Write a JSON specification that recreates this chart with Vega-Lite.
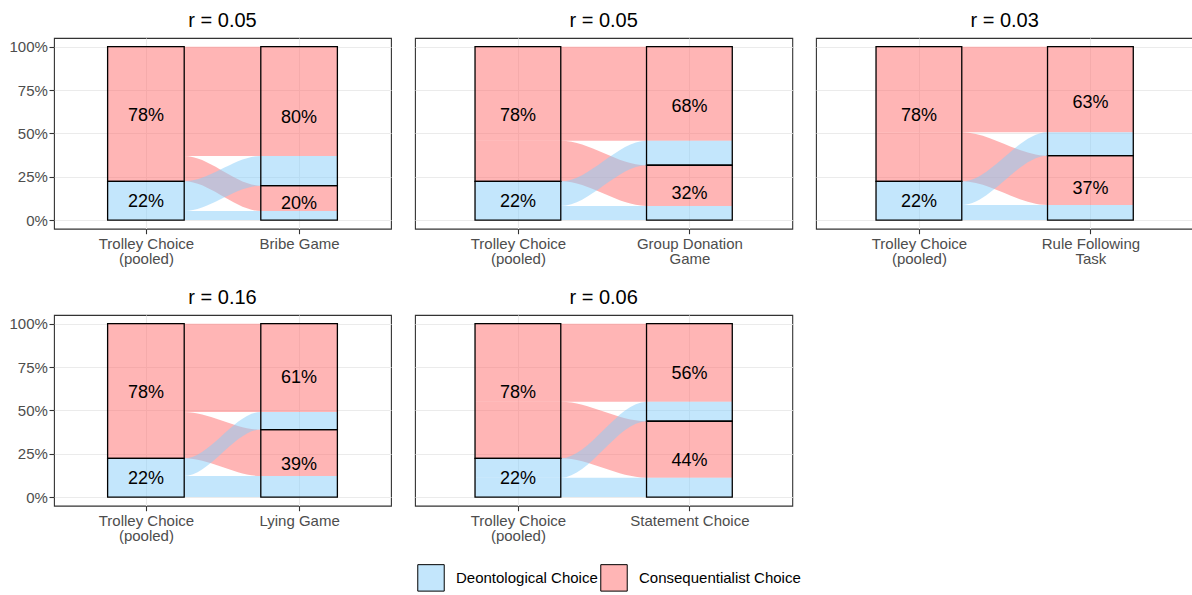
{
"$schema": "https://vega.github.io/schema/vega-lite/v6.json",
"padding": {"left": 8, "top": 9, "right": 0, "bottom": 0},
"config": {
  "font": "Liberation Sans",
  "view": {"stroke": "#333333", "strokeWidth": 1.1},
  "axis": {"domain": false, "gridColor": "#EBEBEB", "labelColor": "#4D4D4D", "labelFontSize": 15, "tickColor": "#333333", "tickSize": 5, "tickWidth": 1.1, "labelPadding": 1.6},
  "title": {"fontSize": 20, "fontWeight": "normal", "color": "#000000", "anchor": "middle", "frame": "group", "offset": 7.5}
},
"datasets": {
 "flows": [
  {"p":1,"f":"dd","c":"Deontological Choice","x":0.75,"lo":0,"hi":0.052},
  {"p":1,"f":"dd","c":"Deontological Choice","x":1.25,"lo":0,"hi":0.052},
  {"p":1,"f":"dd","c":"Deontological Choice","x":1.75,"lo":0,"hi":0.052},
  {"p":1,"f":"dd","c":"Deontological Choice","x":2.25,"lo":0,"hi":0.052},
  {"p":1,"f":"dc","c":"Deontological Choice","x":0.75,"lo":0.052,"hi":0.223},
  {"p":1,"f":"dc","c":"Deontological Choice","x":1.25,"lo":0.052,"hi":0.223},
  {"p":1,"f":"dc","c":"Deontological Choice","x":1.75,"lo":0.198,"hi":0.369},
  {"p":1,"f":"dc","c":"Deontological Choice","x":2.25,"lo":0.198,"hi":0.369},
  {"p":1,"f":"cd","c":"Consequentialist Choice","x":0.75,"lo":0.223,"hi":0.369},
  {"p":1,"f":"cd","c":"Consequentialist Choice","x":1.25,"lo":0.223,"hi":0.369},
  {"p":1,"f":"cd","c":"Consequentialist Choice","x":1.75,"lo":0.052,"hi":0.198},
  {"p":1,"f":"cd","c":"Consequentialist Choice","x":2.25,"lo":0.052,"hi":0.198},
  {"p":1,"f":"cc","c":"Consequentialist Choice","x":0.75,"lo":0.369,"hi":1},
  {"p":1,"f":"cc","c":"Consequentialist Choice","x":1.25,"lo":0.369,"hi":1},
  {"p":1,"f":"cc","c":"Consequentialist Choice","x":1.75,"lo":0.369,"hi":1},
  {"p":1,"f":"cc","c":"Consequentialist Choice","x":2.25,"lo":0.369,"hi":1},

  {"p":2,"f":"dd","c":"Deontological Choice","x":0.75,"lo":0,"hi":0.081},
  {"p":2,"f":"dd","c":"Deontological Choice","x":1.25,"lo":0,"hi":0.081},
  {"p":2,"f":"dd","c":"Deontological Choice","x":1.75,"lo":0,"hi":0.081},
  {"p":2,"f":"dd","c":"Deontological Choice","x":2.25,"lo":0,"hi":0.081},
  {"p":2,"f":"dc","c":"Deontological Choice","x":0.75,"lo":0.081,"hi":0.223},
  {"p":2,"f":"dc","c":"Deontological Choice","x":1.25,"lo":0.081,"hi":0.223},
  {"p":2,"f":"dc","c":"Deontological Choice","x":1.75,"lo":0.316,"hi":0.458},
  {"p":2,"f":"dc","c":"Deontological Choice","x":2.25,"lo":0.316,"hi":0.458},
  {"p":2,"f":"cd","c":"Consequentialist Choice","x":0.75,"lo":0.223,"hi":0.458},
  {"p":2,"f":"cd","c":"Consequentialist Choice","x":1.25,"lo":0.223,"hi":0.458},
  {"p":2,"f":"cd","c":"Consequentialist Choice","x":1.75,"lo":0.081,"hi":0.316},
  {"p":2,"f":"cd","c":"Consequentialist Choice","x":2.25,"lo":0.081,"hi":0.316},
  {"p":2,"f":"cc","c":"Consequentialist Choice","x":0.75,"lo":0.458,"hi":1},
  {"p":2,"f":"cc","c":"Consequentialist Choice","x":1.25,"lo":0.458,"hi":1},
  {"p":2,"f":"cc","c":"Consequentialist Choice","x":1.75,"lo":0.458,"hi":1},
  {"p":2,"f":"cc","c":"Consequentialist Choice","x":2.25,"lo":0.458,"hi":1},

  {"p":3,"f":"dd","c":"Deontological Choice","x":0.75,"lo":0,"hi":0.087},
  {"p":3,"f":"dd","c":"Deontological Choice","x":1.25,"lo":0,"hi":0.087},
  {"p":3,"f":"dd","c":"Deontological Choice","x":1.75,"lo":0,"hi":0.087},
  {"p":3,"f":"dd","c":"Deontological Choice","x":2.25,"lo":0,"hi":0.087},
  {"p":3,"f":"dc","c":"Deontological Choice","x":0.75,"lo":0.087,"hi":0.223},
  {"p":3,"f":"dc","c":"Deontological Choice","x":1.25,"lo":0.087,"hi":0.223},
  {"p":3,"f":"dc","c":"Deontological Choice","x":1.75,"lo":0.371,"hi":0.507},
  {"p":3,"f":"dc","c":"Deontological Choice","x":2.25,"lo":0.371,"hi":0.507},
  {"p":3,"f":"cd","c":"Consequentialist Choice","x":0.75,"lo":0.223,"hi":0.507},
  {"p":3,"f":"cd","c":"Consequentialist Choice","x":1.25,"lo":0.223,"hi":0.507},
  {"p":3,"f":"cd","c":"Consequentialist Choice","x":1.75,"lo":0.087,"hi":0.371},
  {"p":3,"f":"cd","c":"Consequentialist Choice","x":2.25,"lo":0.087,"hi":0.371},
  {"p":3,"f":"cc","c":"Consequentialist Choice","x":0.75,"lo":0.507,"hi":1},
  {"p":3,"f":"cc","c":"Consequentialist Choice","x":1.25,"lo":0.507,"hi":1},
  {"p":3,"f":"cc","c":"Consequentialist Choice","x":1.75,"lo":0.507,"hi":1},
  {"p":3,"f":"cc","c":"Consequentialist Choice","x":2.25,"lo":0.507,"hi":1},

  {"p":4,"f":"dd","c":"Deontological Choice","x":0.75,"lo":0,"hi":0.121},
  {"p":4,"f":"dd","c":"Deontological Choice","x":1.25,"lo":0,"hi":0.121},
  {"p":4,"f":"dd","c":"Deontological Choice","x":1.75,"lo":0,"hi":0.121},
  {"p":4,"f":"dd","c":"Deontological Choice","x":2.25,"lo":0,"hi":0.121},
  {"p":4,"f":"dc","c":"Deontological Choice","x":0.75,"lo":0.121,"hi":0.223},
  {"p":4,"f":"dc","c":"Deontological Choice","x":1.25,"lo":0.121,"hi":0.223},
  {"p":4,"f":"dc","c":"Deontological Choice","x":1.75,"lo":0.389,"hi":0.491},
  {"p":4,"f":"dc","c":"Deontological Choice","x":2.25,"lo":0.389,"hi":0.491},
  {"p":4,"f":"cd","c":"Consequentialist Choice","x":0.75,"lo":0.223,"hi":0.491},
  {"p":4,"f":"cd","c":"Consequentialist Choice","x":1.25,"lo":0.223,"hi":0.491},
  {"p":4,"f":"cd","c":"Consequentialist Choice","x":1.75,"lo":0.121,"hi":0.389},
  {"p":4,"f":"cd","c":"Consequentialist Choice","x":2.25,"lo":0.121,"hi":0.389},
  {"p":4,"f":"cc","c":"Consequentialist Choice","x":0.75,"lo":0.491,"hi":1},
  {"p":4,"f":"cc","c":"Consequentialist Choice","x":1.25,"lo":0.491,"hi":1},
  {"p":4,"f":"cc","c":"Consequentialist Choice","x":1.75,"lo":0.491,"hi":1},
  {"p":4,"f":"cc","c":"Consequentialist Choice","x":2.25,"lo":0.491,"hi":1},

  {"p":5,"f":"dd","c":"Deontological Choice","x":0.75,"lo":0,"hi":0.111},
  {"p":5,"f":"dd","c":"Deontological Choice","x":1.25,"lo":0,"hi":0.111},
  {"p":5,"f":"dd","c":"Deontological Choice","x":1.75,"lo":0,"hi":0.111},
  {"p":5,"f":"dd","c":"Deontological Choice","x":2.25,"lo":0,"hi":0.111},
  {"p":5,"f":"dc","c":"Deontological Choice","x":0.75,"lo":0.111,"hi":0.223},
  {"p":5,"f":"dc","c":"Deontological Choice","x":1.25,"lo":0.111,"hi":0.223},
  {"p":5,"f":"dc","c":"Deontological Choice","x":1.75,"lo":0.437,"hi":0.549},
  {"p":5,"f":"dc","c":"Deontological Choice","x":2.25,"lo":0.437,"hi":0.549},
  {"p":5,"f":"cd","c":"Consequentialist Choice","x":0.75,"lo":0.223,"hi":0.549},
  {"p":5,"f":"cd","c":"Consequentialist Choice","x":1.25,"lo":0.223,"hi":0.549},
  {"p":5,"f":"cd","c":"Consequentialist Choice","x":1.75,"lo":0.111,"hi":0.437},
  {"p":5,"f":"cd","c":"Consequentialist Choice","x":2.25,"lo":0.111,"hi":0.437},
  {"p":5,"f":"cc","c":"Consequentialist Choice","x":0.75,"lo":0.549,"hi":1},
  {"p":5,"f":"cc","c":"Consequentialist Choice","x":1.25,"lo":0.549,"hi":1},
  {"p":5,"f":"cc","c":"Consequentialist Choice","x":1.75,"lo":0.549,"hi":1},
  {"p":5,"f":"cc","c":"Consequentialist Choice","x":2.25,"lo":0.549,"hi":1}
 ],
 "strata": [
  {"p":1,"x0":0.75,"x1":1.25,"xc":1,"lo":0,"hi":0.223,"mid":0.1115,"share":0.223},
  {"p":1,"x0":0.75,"x1":1.25,"xc":1,"lo":0.223,"hi":1,"mid":0.6115,"share":0.777},
  {"p":1,"x0":1.75,"x1":2.25,"xc":2,"lo":0,"hi":0.198,"mid":0.099,"share":0.198},
  {"p":1,"x0":1.75,"x1":2.25,"xc":2,"lo":0.198,"hi":1,"mid":0.599,"share":0.802},
  {"p":2,"x0":0.75,"x1":1.25,"xc":1,"lo":0,"hi":0.223,"mid":0.1115,"share":0.223},
  {"p":2,"x0":0.75,"x1":1.25,"xc":1,"lo":0.223,"hi":1,"mid":0.6115,"share":0.777},
  {"p":2,"x0":1.75,"x1":2.25,"xc":2,"lo":0,"hi":0.316,"mid":0.158,"share":0.316},
  {"p":2,"x0":1.75,"x1":2.25,"xc":2,"lo":0.316,"hi":1,"mid":0.658,"share":0.684},
  {"p":3,"x0":0.75,"x1":1.25,"xc":1,"lo":0,"hi":0.223,"mid":0.1115,"share":0.223},
  {"p":3,"x0":0.75,"x1":1.25,"xc":1,"lo":0.223,"hi":1,"mid":0.6115,"share":0.777},
  {"p":3,"x0":1.75,"x1":2.25,"xc":2,"lo":0,"hi":0.371,"mid":0.1855,"share":0.371},
  {"p":3,"x0":1.75,"x1":2.25,"xc":2,"lo":0.371,"hi":1,"mid":0.6855,"share":0.629},
  {"p":4,"x0":0.75,"x1":1.25,"xc":1,"lo":0,"hi":0.223,"mid":0.1115,"share":0.223},
  {"p":4,"x0":0.75,"x1":1.25,"xc":1,"lo":0.223,"hi":1,"mid":0.6115,"share":0.777},
  {"p":4,"x0":1.75,"x1":2.25,"xc":2,"lo":0,"hi":0.389,"mid":0.1945,"share":0.389},
  {"p":4,"x0":1.75,"x1":2.25,"xc":2,"lo":0.389,"hi":1,"mid":0.6945,"share":0.611},
  {"p":5,"x0":0.75,"x1":1.25,"xc":1,"lo":0,"hi":0.223,"mid":0.1115,"share":0.223},
  {"p":5,"x0":0.75,"x1":1.25,"xc":1,"lo":0.223,"hi":1,"mid":0.6115,"share":0.777},
  {"p":5,"x0":1.75,"x1":2.25,"xc":2,"lo":0,"hi":0.437,"mid":0.2185,"share":0.437},
  {"p":5,"x0":1.75,"x1":2.25,"xc":2,"lo":0.437,"hi":1,"mid":0.7185,"share":0.563}
 ]
},
"columns": 3,
"align": "each",
"spacing": {"row": 19, "column": 22},
"concat": [
 {
  "width": 337, "height": 190.7, "title": "r = 0.05",
  "layer": [
   {"data": {"name": "flows"}, "transform": [{"filter": "datum.p == 1 && datum.c == 'Consequentialist Choice'"}],
    "mark": {"type": "area", "interpolate": "monotone", "fillOpacity": 0.5},
    "encoding": {
     "x": {"field": "x", "type": "quantitative", "scale": {"domain": [0.4, 2.6], "nice": false, "zero": false},
       "axis": {"title": null, "values": [1, 2], "grid": true, "gridWidth": 1.1, "labelExpr": "datum.value == 1 ? ['Trolley Choice', '(pooled)'] : 'Bribe Game'", "labelLineHeight": 15, "labelPadding": 2.5, "labelOverlap": false, "labelFlush": false, "labelBound": false}},
     "y": {"field": "lo", "type": "quantitative", "stack": null, "scale": {"domain": [-0.05, 1.05], "nice": false, "zero": false},
       "axis": {"title": null, "values": [0, 0.125, 0.25, 0.375, 0.5, 0.625, 0.75, 0.875, 1], "grid": true, "labelOverlap": false,
         "gridWidth": {"condition": {"test": "round(datum.value * 8) % 2 == 1", "value": 0.55}, "value": 1.1},
         "tickOpacity": {"condition": {"test": "round(datum.value * 8) % 2 == 1", "value": 0}, "value": 1},
         "labelExpr": "round(datum.value * 8) % 2 == 1 ? '' : format(datum.value, '.0%')"}},
     "y2": {"field": "hi"},
     "detail": {"field": "f"},
     "color": {"field": "c", "type": "nominal", "scale": {"domain": ["Deontological Choice", "Consequentialist Choice"], "range": ["#87CEFA", "#FF6B6B"]},
       "legend": {"title": null, "orient": "none", "legendX": 363, "legendY": 525.5, "direction": "horizontal", "symbolType": "square", "symbolSize": 700, "symbolStrokeColor": "black", "symbolStrokeWidth": 1, "labelFontSize": 15, "labelColor": "black", "labelOffset": 11, "labelLimit": 400, "columnPadding": 0, "padding": 0,
         "encode": {"symbols": {"update": {"fillOpacity": {"value": 0.5}, "stroke": {"value": "black"}, "strokeOpacity": {"value": 1}, "opacity": {"value": 1}}}}}}
    }},
   {"data": {"name": "flows"}, "transform": [{"filter": "datum.p == 1 && datum.c == 'Deontological Choice'"}],
    "mark": {"type": "area", "interpolate": "monotone", "fillOpacity": 0.5},
    "encoding": {
     "x": {"field": "x", "type": "quantitative"},
     "y": {"field": "lo", "type": "quantitative", "stack": null},
     "y2": {"field": "hi"},
     "detail": {"field": "f"},
     "color": {"field": "c", "type": "nominal", "scale": {"domain": ["Deontological Choice", "Consequentialist Choice"], "range": ["#87CEFA", "#FF6B6B"]}}
    }},
   {"data": {"name": "strata"}, "transform": [{"filter": "datum.p == 1"}],
    "mark": {"type": "rect", "fill": "transparent", "stroke": "black", "strokeWidth": 1.3},
    "encoding": {"x": {"field": "x0", "type": "quantitative"}, "x2": {"field": "x1"}, "y": {"field": "lo", "type": "quantitative"}, "y2": {"field": "hi"}}},
   {"data": {"name": "strata"}, "transform": [{"filter": "datum.p == 1"}],
    "mark": {"type": "text", "fontSize": 18, "color": "black", "dy": 1.5},
    "encoding": {"x": {"field": "xc", "type": "quantitative"}, "y": {"field": "mid", "type": "quantitative"}, "text": {"field": "share", "type": "quantitative", "format": ".0%"}}}
  ]
 },
 {
  "width": 377.3, "height": 190.7, "title": "r = 0.05",
  "layer": [
   {"data": {"name": "flows"}, "transform": [{"filter": "datum.p == 2 && datum.c == 'Consequentialist Choice'"}],
    "mark": {"type": "area", "interpolate": "monotone", "fillOpacity": 0.5},
    "encoding": {
     "x": {"field": "x", "type": "quantitative", "scale": {"domain": [0.4, 2.6], "nice": false, "zero": false},
       "axis": {"title": null, "values": [1, 2], "grid": true, "gridWidth": 1.1, "labelExpr": "datum.value == 1 ? ['Trolley Choice', '(pooled)'] : ['Group Donation', 'Game']", "labelLineHeight": 15, "labelPadding": 2.5, "labelOverlap": false, "labelFlush": false, "labelBound": false}},
     "y": {"field": "lo", "type": "quantitative", "stack": null, "scale": {"domain": [-0.05, 1.05], "nice": false, "zero": false},
       "axis": {"title": null, "values": [0, 0.125, 0.25, 0.375, 0.5, 0.625, 0.75, 0.875, 1], "grid": true, "labels": false, "ticks": false,
         "gridWidth": {"condition": {"test": "round(datum.value * 8) % 2 == 1", "value": 0.55}, "value": 1.1}}},
     "y2": {"field": "hi"},
     "detail": {"field": "f"},
     "color": {"field": "c", "type": "nominal", "scale": {"domain": ["Deontological Choice", "Consequentialist Choice"], "range": ["#87CEFA", "#FF6B6B"]}}
    }},
   {"data": {"name": "flows"}, "transform": [{"filter": "datum.p == 2 && datum.c == 'Deontological Choice'"}],
    "mark": {"type": "area", "interpolate": "monotone", "fillOpacity": 0.5},
    "encoding": {
     "x": {"field": "x", "type": "quantitative"},
     "y": {"field": "lo", "type": "quantitative", "stack": null},
     "y2": {"field": "hi"},
     "detail": {"field": "f"},
     "color": {"field": "c", "type": "nominal", "scale": {"domain": ["Deontological Choice", "Consequentialist Choice"], "range": ["#87CEFA", "#FF6B6B"]}}
    }},
   {"data": {"name": "strata"}, "transform": [{"filter": "datum.p == 2"}],
    "mark": {"type": "rect", "fill": "transparent", "stroke": "black", "strokeWidth": 1.3},
    "encoding": {"x": {"field": "x0", "type": "quantitative"}, "x2": {"field": "x1"}, "y": {"field": "lo", "type": "quantitative"}, "y2": {"field": "hi"}}},
   {"data": {"name": "strata"}, "transform": [{"filter": "datum.p == 2"}],
    "mark": {"type": "text", "fontSize": 18, "color": "black", "dy": 1.5},
    "encoding": {"x": {"field": "xc", "type": "quantitative"}, "y": {"field": "mid", "type": "quantitative"}, "text": {"field": "share", "type": "quantitative", "format": ".0%"}}}
  ]
 },
 {
  "width": 377.3, "height": 190.7, "title": "r = 0.03",
  "layer": [
   {"data": {"name": "flows"}, "transform": [{"filter": "datum.p == 3 && datum.c == 'Consequentialist Choice'"}],
    "mark": {"type": "area", "interpolate": "monotone", "fillOpacity": 0.5},
    "encoding": {
     "x": {"field": "x", "type": "quantitative", "scale": {"domain": [0.4, 2.6], "nice": false, "zero": false},
       "axis": {"title": null, "values": [1, 2], "grid": true, "gridWidth": 1.1, "labelExpr": "datum.value == 1 ? ['Trolley Choice', '(pooled)'] : ['Rule Following', 'Task']", "labelLineHeight": 15, "labelPadding": 2.5, "labelOverlap": false, "labelFlush": false, "labelBound": false}},
     "y": {"field": "lo", "type": "quantitative", "stack": null, "scale": {"domain": [-0.05, 1.05], "nice": false, "zero": false},
       "axis": {"title": null, "values": [0, 0.125, 0.25, 0.375, 0.5, 0.625, 0.75, 0.875, 1], "grid": true, "labels": false, "ticks": false,
         "gridWidth": {"condition": {"test": "round(datum.value * 8) % 2 == 1", "value": 0.55}, "value": 1.1}}},
     "y2": {"field": "hi"},
     "detail": {"field": "f"},
     "color": {"field": "c", "type": "nominal", "scale": {"domain": ["Deontological Choice", "Consequentialist Choice"], "range": ["#87CEFA", "#FF6B6B"]}}
    }},
   {"data": {"name": "flows"}, "transform": [{"filter": "datum.p == 3 && datum.c == 'Deontological Choice'"}],
    "mark": {"type": "area", "interpolate": "monotone", "fillOpacity": 0.5},
    "encoding": {
     "x": {"field": "x", "type": "quantitative"},
     "y": {"field": "lo", "type": "quantitative", "stack": null},
     "y2": {"field": "hi"},
     "detail": {"field": "f"},
     "color": {"field": "c", "type": "nominal", "scale": {"domain": ["Deontological Choice", "Consequentialist Choice"], "range": ["#87CEFA", "#FF6B6B"]}}
    }},
   {"data": {"name": "strata"}, "transform": [{"filter": "datum.p == 3"}],
    "mark": {"type": "rect", "fill": "transparent", "stroke": "black", "strokeWidth": 1.3},
    "encoding": {"x": {"field": "x0", "type": "quantitative"}, "x2": {"field": "x1"}, "y": {"field": "lo", "type": "quantitative"}, "y2": {"field": "hi"}}},
   {"data": {"name": "strata"}, "transform": [{"filter": "datum.p == 3"}],
    "mark": {"type": "text", "fontSize": 18, "color": "black", "dy": 1.5},
    "encoding": {"x": {"field": "xc", "type": "quantitative"}, "y": {"field": "mid", "type": "quantitative"}, "text": {"field": "share", "type": "quantitative", "format": ".0%"}}}
  ]
 },
 {
  "width": 337, "height": 190.7, "title": "r = 0.16",
  "layer": [
   {"data": {"name": "flows"}, "transform": [{"filter": "datum.p == 4 && datum.c == 'Consequentialist Choice'"}],
    "mark": {"type": "area", "interpolate": "monotone", "fillOpacity": 0.5},
    "encoding": {
     "x": {"field": "x", "type": "quantitative", "scale": {"domain": [0.4, 2.6], "nice": false, "zero": false},
       "axis": {"title": null, "values": [1, 2], "grid": true, "gridWidth": 1.1, "labelExpr": "datum.value == 1 ? ['Trolley Choice', '(pooled)'] : 'Lying Game'", "labelLineHeight": 15, "labelPadding": 2.5, "labelOverlap": false, "labelFlush": false, "labelBound": false}},
     "y": {"field": "lo", "type": "quantitative", "stack": null, "scale": {"domain": [-0.05, 1.05], "nice": false, "zero": false},
       "axis": {"title": null, "values": [0, 0.125, 0.25, 0.375, 0.5, 0.625, 0.75, 0.875, 1], "grid": true, "labelOverlap": false,
         "gridWidth": {"condition": {"test": "round(datum.value * 8) % 2 == 1", "value": 0.55}, "value": 1.1},
         "tickOpacity": {"condition": {"test": "round(datum.value * 8) % 2 == 1", "value": 0}, "value": 1},
         "labelExpr": "round(datum.value * 8) % 2 == 1 ? '' : format(datum.value, '.0%')"}},
     "y2": {"field": "hi"},
     "detail": {"field": "f"},
     "color": {"field": "c", "type": "nominal", "scale": {"domain": ["Deontological Choice", "Consequentialist Choice"], "range": ["#87CEFA", "#FF6B6B"]}}
    }},
   {"data": {"name": "flows"}, "transform": [{"filter": "datum.p == 4 && datum.c == 'Deontological Choice'"}],
    "mark": {"type": "area", "interpolate": "monotone", "fillOpacity": 0.5},
    "encoding": {
     "x": {"field": "x", "type": "quantitative"},
     "y": {"field": "lo", "type": "quantitative", "stack": null},
     "y2": {"field": "hi"},
     "detail": {"field": "f"},
     "color": {"field": "c", "type": "nominal", "scale": {"domain": ["Deontological Choice", "Consequentialist Choice"], "range": ["#87CEFA", "#FF6B6B"]}}
    }},
   {"data": {"name": "strata"}, "transform": [{"filter": "datum.p == 4"}],
    "mark": {"type": "rect", "fill": "transparent", "stroke": "black", "strokeWidth": 1.3},
    "encoding": {"x": {"field": "x0", "type": "quantitative"}, "x2": {"field": "x1"}, "y": {"field": "lo", "type": "quantitative"}, "y2": {"field": "hi"}}},
   {"data": {"name": "strata"}, "transform": [{"filter": "datum.p == 4"}],
    "mark": {"type": "text", "fontSize": 18, "color": "black", "dy": 1.5},
    "encoding": {"x": {"field": "xc", "type": "quantitative"}, "y": {"field": "mid", "type": "quantitative"}, "text": {"field": "share", "type": "quantitative", "format": ".0%"}}}
  ]
 },
 {
  "width": 377.3, "height": 190.7, "title": "r = 0.06",
  "layer": [
   {"data": {"name": "flows"}, "transform": [{"filter": "datum.p == 5 && datum.c == 'Consequentialist Choice'"}],
    "mark": {"type": "area", "interpolate": "monotone", "fillOpacity": 0.5},
    "encoding": {
     "x": {"field": "x", "type": "quantitative", "scale": {"domain": [0.4, 2.6], "nice": false, "zero": false},
       "axis": {"title": null, "values": [1, 2], "grid": true, "gridWidth": 1.1, "labelExpr": "datum.value == 1 ? ['Trolley Choice', '(pooled)'] : 'Statement Choice'", "labelLineHeight": 15, "labelPadding": 2.5, "labelOverlap": false, "labelFlush": false, "labelBound": false}},
     "y": {"field": "lo", "type": "quantitative", "stack": null, "scale": {"domain": [-0.05, 1.05], "nice": false, "zero": false},
       "axis": {"title": null, "values": [0, 0.125, 0.25, 0.375, 0.5, 0.625, 0.75, 0.875, 1], "grid": true, "labels": false, "ticks": false,
         "gridWidth": {"condition": {"test": "round(datum.value * 8) % 2 == 1", "value": 0.55}, "value": 1.1}}},
     "y2": {"field": "hi"},
     "detail": {"field": "f"},
     "color": {"field": "c", "type": "nominal", "scale": {"domain": ["Deontological Choice", "Consequentialist Choice"], "range": ["#87CEFA", "#FF6B6B"]}}
    }},
   {"data": {"name": "flows"}, "transform": [{"filter": "datum.p == 5 && datum.c == 'Deontological Choice'"}],
    "mark": {"type": "area", "interpolate": "monotone", "fillOpacity": 0.5},
    "encoding": {
     "x": {"field": "x", "type": "quantitative"},
     "y": {"field": "lo", "type": "quantitative", "stack": null},
     "y2": {"field": "hi"},
     "detail": {"field": "f"},
     "color": {"field": "c", "type": "nominal", "scale": {"domain": ["Deontological Choice", "Consequentialist Choice"], "range": ["#87CEFA", "#FF6B6B"]}}
    }},
   {"data": {"name": "strata"}, "transform": [{"filter": "datum.p == 5"}],
    "mark": {"type": "rect", "fill": "transparent", "stroke": "black", "strokeWidth": 1.3},
    "encoding": {"x": {"field": "x0", "type": "quantitative"}, "x2": {"field": "x1"}, "y": {"field": "lo", "type": "quantitative"}, "y2": {"field": "hi"}}},
   {"data": {"name": "strata"}, "transform": [{"filter": "datum.p == 5"}],
    "mark": {"type": "text", "fontSize": 18, "color": "black", "dy": 1.5},
    "encoding": {"x": {"field": "xc", "type": "quantitative"}, "y": {"field": "mid", "type": "quantitative"}, "text": {"field": "share", "type": "quantitative", "format": ".0%"}}}
  ]
 }
]
}
